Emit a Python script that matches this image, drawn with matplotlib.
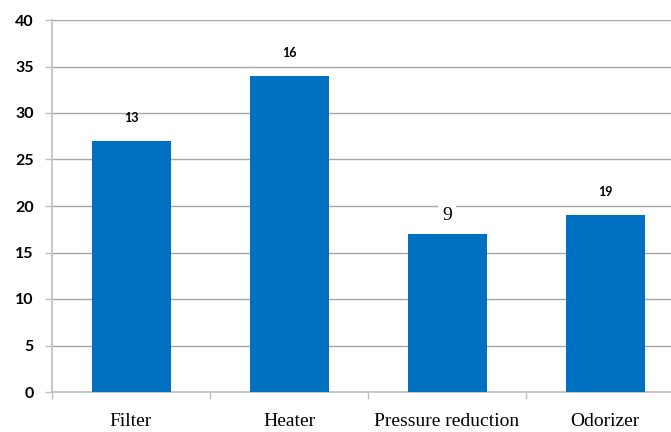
import matplotlib
matplotlib.use("Agg")
import matplotlib.pyplot as plt
from matplotlib.ticker import FixedLocator, NullFormatter

categories = ["Filter", "Heater", "Pressure reduction", "Odorizer"]
values = [27, 34, 17, 19]
bar_labels = ["13", "16", "9", "19"]
y_ticks = [0, 5, 10, 15, 20, 25, 30, 35, 40]

bar_color = "#0070C0"
grid_color = "#A6A6A6"
spine_color = "#BFBFBF"

fig = plt.figure(figsize=(6.71, 4.32), dpi=100)
ax = fig.add_axes([52 / 671, 40 / 432, 632 / 671, 372 / 432])

x = list(range(len(categories)))
bars = ax.bar(x, values, width=0.5, color=bar_color, zorder=3)

ax.set_xlim(-0.5, len(categories) - 0.5)
ax.set_ylim(0, 40)
ax.set_yticks(y_ticks)
ax.set_yticklabels([str(t) for t in y_ticks], fontfamily="Lato",
                   fontweight="bold", fontsize=11.5)
ax.yaxis.grid(True, color=grid_color, linewidth=1, zorder=0)
ax.set_axisbelow(True)

# category names centred on bars, tick marks on the boundaries between them
ax.set_xticks(x)
ax.set_xticklabels(categories, fontfamily="Liberation Serif", fontsize=14)
ax.tick_params(axis="x", which="major", length=0, pad=15)
ax.xaxis.set_minor_locator(FixedLocator([i - 0.5 for i in range(len(categories) + 1)]))
ax.xaxis.set_minor_formatter(NullFormatter())
ax.tick_params(axis="x", which="minor", length=5, color=spine_color, width=1)
ax.tick_params(axis="y", length=5, color=spine_color, width=1, pad=8)

for side in ("top", "right"):
    ax.spines[side].set_visible(False)
for side in ("left", "bottom"):
    ax.spines[side].set_color(spine_color)
    ax.spines[side].set_linewidth(1.2)

# annotations above the bars
for i, (v, lab) in enumerate(zip(values, bar_labels)):
    if lab == "9":
        ax.text(i, v + 2.0, lab, ha="center", va="center",
                fontfamily="Liberation Serif", fontsize=14, zorder=4,
                bbox=dict(facecolor="white", edgecolor="none", pad=3))
    else:
        ax.text(i, v + 2.5, lab, ha="center", va="center",
                fontfamily="Lato", fontweight="bold", fontsize=9, zorder=4)

fig.savefig("out.png", dpi=100)
